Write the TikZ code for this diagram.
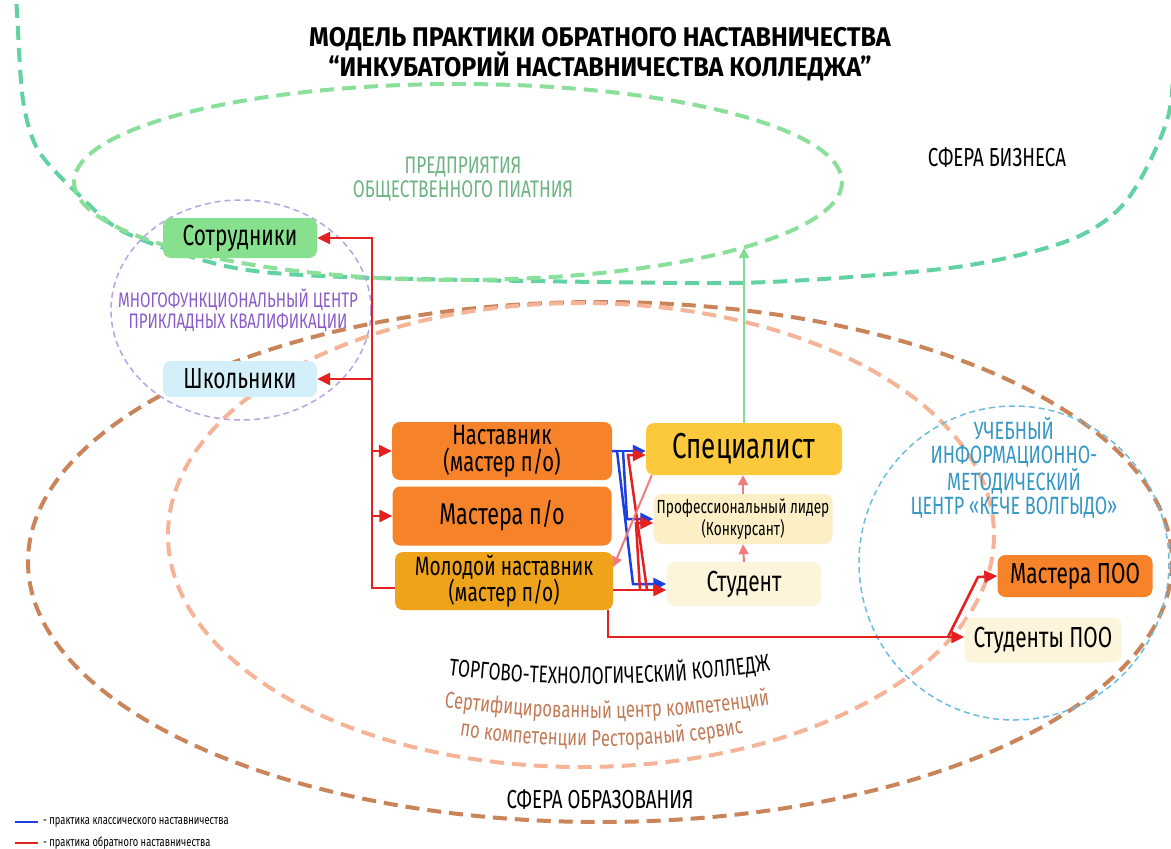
\documentclass[tikz,border=0pt]{standalone}
\usepackage{fontspec}
\setmainfont{Fira Sans}[FakeStretch=0.72]
\newfontfamily\titlefont{Fira Sans}[FakeStretch=0.93]
\usepackage{tikz}
\usetikzlibrary{shapes,arrows.meta}
\usetikzlibrary{positioning,decorations.text}
\usepackage{xcolor}

\definecolor{bizline}{HTML}{62D2A2}
\definecolor{predline}{HTML}{8AE09A}
\definecolor{predtext}{HTML}{6DB384}
\definecolor{sotrfill}{HTML}{86E08E}
\definecolor{mfcline}{HTML}{B9A3E3}
\definecolor{mfctext}{HTML}{8B5CC9}
\definecolor{shkolfill}{HTML}{D3F0FA}
\definecolor{eduline}{HTML}{C98459}
\definecolor{colline}{HTML}{F5B497}
\definecolor{uimcline}{HTML}{6BBCDF}
\definecolor{uimctext}{HTML}{3597C5}
\definecolor{orangefill}{HTML}{F6822A}
\definecolor{youngfill}{HTML}{EEA31A}
\definecolor{specfill}{HTML}{FBC93B}
\definecolor{liderfill}{HTML}{FCEFC6}
\definecolor{studfill}{HTML}{FDF4DC}
\definecolor{redl}{HTML}{E52020}
\definecolor{bluel}{HTML}{1E3FE0}
\definecolor{pinkl}{HTML}{F27B7B}
\definecolor{greenl}{HTML}{84DC93}
\definecolor{certtext}{HTML}{C27B55}

\tikzset{
    box/.style={rectangle, rounded corners=8pt, align=center, inner sep=0pt},
    bigdash/.style={line width=4pt, dash pattern=on 14pt off 8pt},
    thindash/.style={line width=1.5pt, dash pattern=on 6pt off 4pt},
    rarr/.style={draw=redl, line width=2.5pt, -{Triangle[length=13pt,width=12pt]}},
    barr/.style={draw=bluel, line width=2.5pt, -{Triangle[length=13pt,width=12pt]}},
    parr/.style={draw=pinkl, line width=2pt, -{Triangle[length=10pt,width=10pt]}},
    garr/.style={draw=greenl, line width=2pt, -{Triangle[length=10pt,width=10pt]}}
}

\begin{document}
\begin{tikzpicture}[x=1pt,y=-1pt]
    \clip (0,0) rectangle (1171,849);
    \fill[white] (0,0) rectangle (1171,849);

    % spheres
    \draw[bizline, bigdash] plot[smooth] coordinates {(14,-40) (17,13) (23,100) (38,150) (77,193) (126,233)
        (230,267) (345,277) (600,282) (769,282) (957,267) (1070,240) (1127,200) (1168,117) (1174,33) (1176,-40)};
    \draw[predline, bigdash] (458,182) ellipse [x radius=384, y radius=98];
    \draw[eduline, bigdash] (600,562) ellipse [x radius=572, y radius=260];
    \draw[colline, bigdash] (581,535) ellipse [x radius=413, y radius=232];
    \draw[mfcline, thindash] (241,310) ellipse [x radius=130, y radius=110];
    \draw[uimcline, thindash] (1014,563) ellipse [x radius=155, y radius=157];

    % labels
    \node[align=center, font=\titlefont\bfseries\fontsize{27}{22}\selectfont] (title) at (600,54)
        {МОДЕЛЬ ПРАКТИКИ ОБРАТНОГО НАСТАВНИЧЕСТВА\\“ИНКУБАТОРИЙ НАСТАВНИЧЕСТВА КОЛЛЕДЖА”};
    \node[font=\fontsize{26}{26}\selectfont] (biz) at (997,158) {СФЕРА БИЗНЕСА};
    \node[align=center, text=predtext, font=\fontsize{24}{24}\selectfont] (pred) at (463,179)
        {ПРЕДПРИЯТИЯ\\ОБЩЕСТВЕННОГО ПИАТНИЯ};
    \node[align=center, text=mfctext, font=\fontsize{21}{21}\selectfont] (mfc) at (238,310)
        {МНОГОФУНКЦИОНАЛЬНЫЙ ЦЕНТР\\ПРИКЛАДНЫХ КВАЛИФИКАЦИИ};
    \node[align=center, text=uimctext, font=\fontsize{25}{24}\selectfont] (uimc) at (1014,468)
        {УЧЕБНЫЙ\\ИНФОРМАЦИОННО-\\МЕТОДИЧЕСКИЙ\\ЦЕНТР «КЕЧЕ ВОЛГЫДО»};
    \node[font=\fontsize{26}{26}\selectfont] (obraz) at (600,800) {СФЕРА ОБРАЗОВАНИЯ};
    \path[decorate, decoration={text along path, text align=center,
        text={|\fontsize{24}{24}\selectfont|ТОРГОВО-ТЕХНОЛОГИЧЕСКИЙ КОЛЛЕДЖ}}]
        (437,674) .. controls (552,689) and (667,687) .. (782,669);
    \path[decorate, decoration={text along path, text align=center,
        text={|\color{certtext}\fontsize{23}{23}\selectfont|Сертифицированный центр компетенций}}]
        (428,705) .. controls (545,723) and (668,723) .. (786,702);
    \path[decorate, decoration={text along path, text align=center,
        text={|\color{certtext}\fontsize{23}{23}\selectfont|по компетенции Рестораный сервис}}]
        (443,733) .. controls (545,751) and (660,751) .. (760,730);

    % participants
    \node[box, fill=sotrfill, minimum width=154pt, minimum height=40pt, font=\fontsize{29}{29}\selectfont]
        (sotr) at (240,238) {Сотрудники};
    \node[box, fill=shkolfill, minimum width=154pt, minimum height=36pt, font=\fontsize{29}{29}\selectfont]
        (shkol) at (240,379) {Школьники};
    \node[box, fill=orangefill, minimum width=220pt, minimum height=58pt, font=\fontsize{28}{27}\selectfont]
        (nast) at (502,451) {Наставник\\(мастер п/о)};
    \node[box, fill=orangefill, minimum width=219pt, minimum height=59pt, font=\fontsize{30}{30}\selectfont]
        (master) at (502,516) {Мастера п/о};
    \node[box, fill=youngfill, minimum width=218pt, minimum height=58pt, font=\fontsize{26.5}{26.5}\selectfont]
        (young) at (504,581) {Молодой наставник\\(мастер п/о)};
    \node[box, fill=specfill, minimum width=196pt, minimum height=52pt, font=\fontsize{36}{36}\selectfont]
        (spec) at (744,449) {Специалист};
    \node[box, fill=liderfill, minimum width=179pt, minimum height=50pt, font=\fontsize{19}{22}\selectfont]
        (lider) at (743,519) {Профессиональный лидер\\(Конкурсант)};
    \node[box, fill=studfill, minimum width=155pt, minimum height=44pt, font=\fontsize{29}{29}\selectfont]
        (stud) at (744,584) {Студент};
    \node[box, fill=orangefill, minimum width=155pt, minimum height=42pt, font=\fontsize{29}{29}\selectfont]
        (masterpoo) at (1075,576) {Мастера ПОО};
    \node[box, fill=studfill, minimum width=157pt, minimum height=45pt, font=\fontsize{29}{29}\selectfont]
        (studpoo) at (1043,640) {Студенты ПОО};

    % reverse mentoring, left
    \coordinate (rj) at (372,588);
    \draw[rarr] ([yshift=-7pt]young.west) -- (rj) |- (sotr.east);
    \draw[rarr] (rj) |- (shkol.east);
    \draw[rarr] (rj) |- (nast.west);
    \draw[rarr] (rj) |- (master.west);

    % classic mentoring
    \coordinate (bj1) at (617,451);
    \coordinate (bj2) at (633,584);
    \coordinate (bj3) at (623,451);
    \coordinate (bj4) at (627,519);
    \draw[barr] (nast.east) -- (nast.east -| spec.west);
    \draw[barr] (nast.east) -- (bj1) -- (bj2) -- (stud.west);
    \draw[barr] (bj3) -- (bj4) -- (lider.west);

    % reverse mentoring, right
    \coordinate (ry) at (613,590);
    \coordinate (rs1) at (647,590);
    \coordinate (rs2) at (628,455);
    \coordinate (rl1) at (640,590);
    \coordinate (rl2) at (636,523);
    \draw[rarr] (ry) -- (ry -| stud.west);
    \draw[rarr] (rs1) -- (rs2) -- (rs2 -| spec.west);
    \draw[rarr] (rl1) -- (rl2) -- (rl2 -| lider.west);
    \draw[parr] ([xshift=6pt]spec.south west) -- ([yshift=14pt]young.east);

    % growth
    \draw[parr] (stud.north) -- (lider.south);
    \draw[parr] (lider.north) -- (lider.north |- spec.south);
    \coordinate (gend) at (744,248);
    \draw[garr] (spec.north) -- (gend);

    % to other colleges
    \coordinate (pj) at (948,637);
    \coordinate (pj2) at (978,577);
    \draw[rarr] ([xshift=-5pt]young.south east) |- (pj) -- (pj -| studpoo.west);
    \draw[rarr] (pj) -- (pj2) -- (masterpoo.west);

    % legend
    \coordinate (lb1) at (15,822);
    \coordinate (lb2) at (38,822);
    \coordinate (lr1) at (15,843);
    \coordinate (lr2) at (38,843);
    \draw[bluel, line width=2.5pt] (lb1) -- (lb2);
    \draw[redl, line width=2.5pt] (lr1) -- (lr2);
    \node[anchor=west, font=\fontsize{13}{13}\selectfont, inner sep=0pt] (lbt) at (43,822)
        {- практика классического наставничества};
    \node[anchor=west, font=\fontsize{13}{13}\selectfont, inner sep=0pt] (lrt) at (43,843)
        {- практика обратного наставничества};
\end{tikzpicture}
\end{document}
